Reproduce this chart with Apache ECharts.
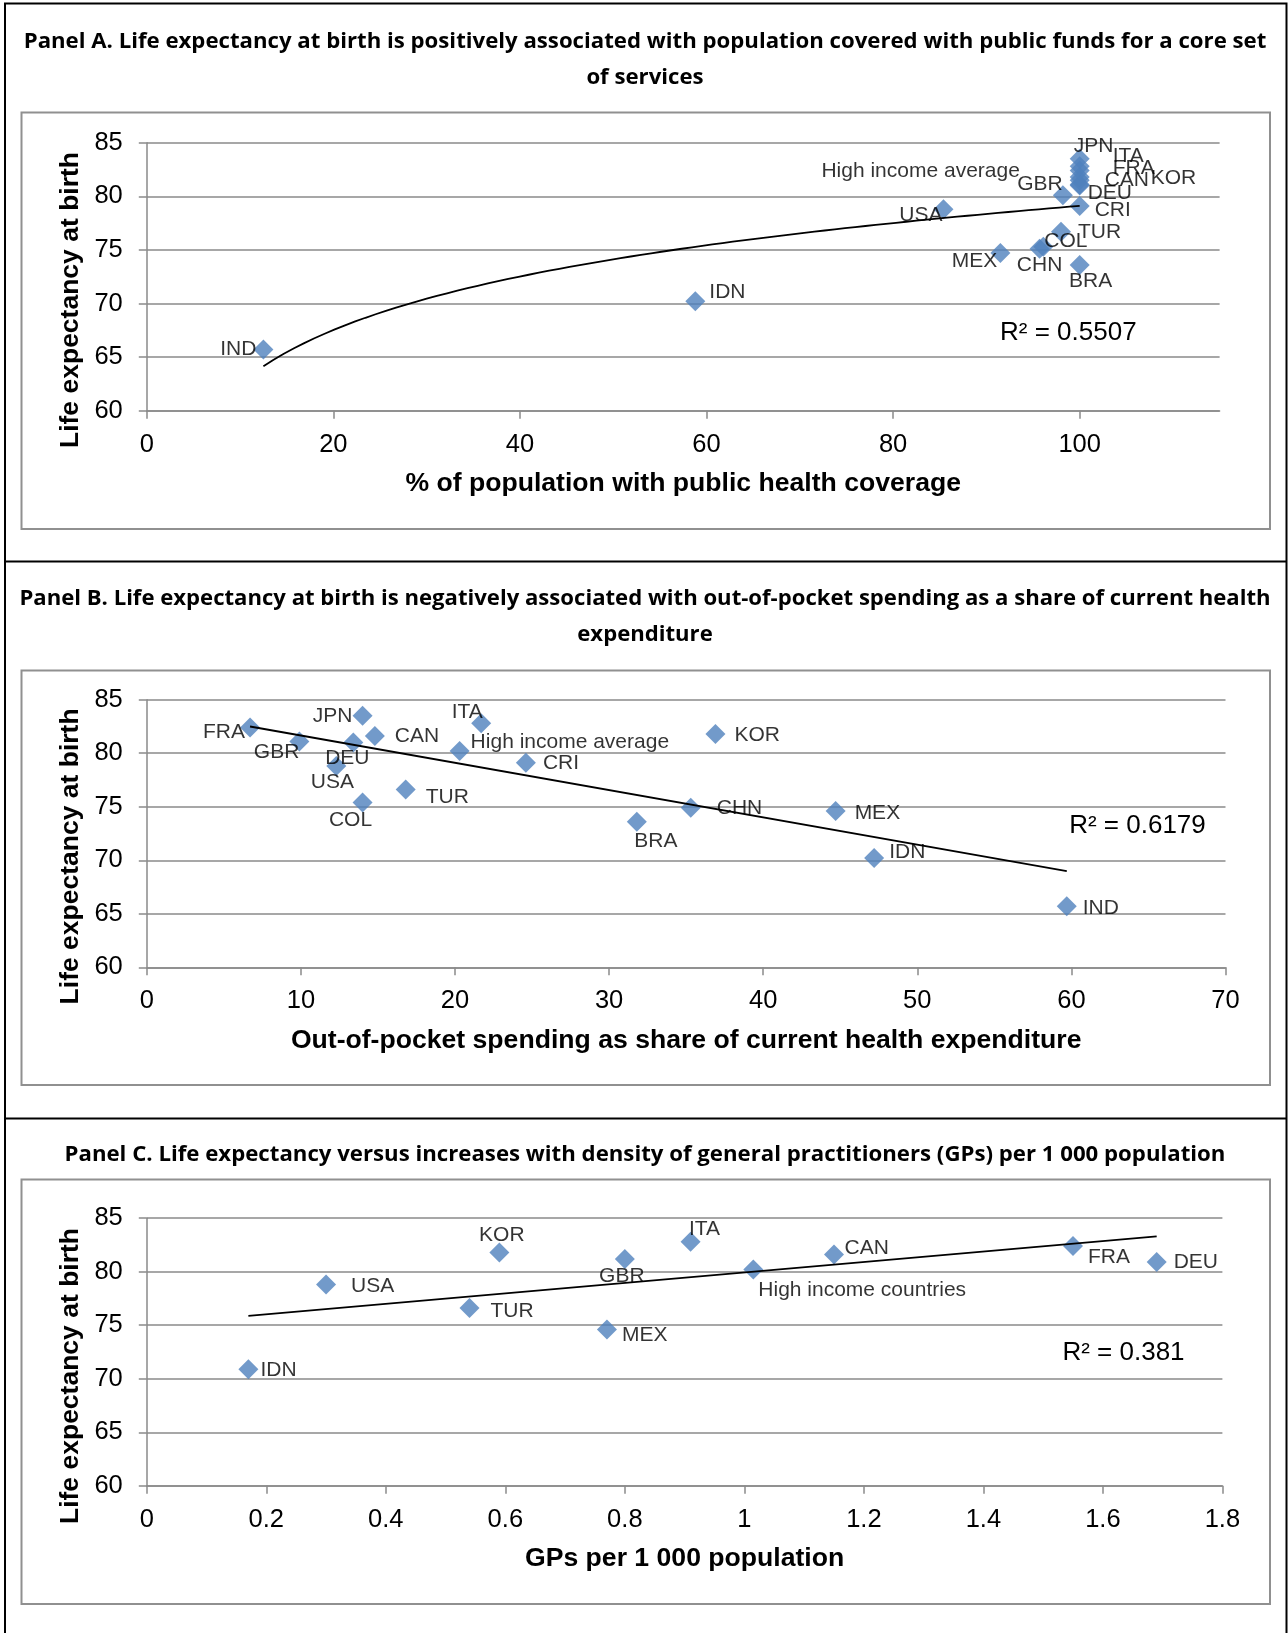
<!DOCTYPE html>
<html>
<head>
<meta charset="utf-8">
<script src="https://cdn.jsdelivr.net/npm/echarts@6/dist/echarts.min.js"></script>
<style>
  html, body { margin: 0; padding: 0; background: #ffffff; }
  #chart { width: 1288px; height: 1633px; }
</style>
</head>
<body>
<div id="chart"></div>
<script>
// ---- Panel A: public health coverage (%) vs life expectancy ----
const countriesA = ['IND', 'IDN', 'USA', 'MEX', 'CHN', 'COL', 'TUR', 'BRA', 'CRI',
  'High income average', 'DEU', 'GBR', 'CAN', 'KOR', 'FRA', 'ITA', 'JPN'];
const coverageA = [12.5, 58.8, 85.4, 91.5, 95.7, 96.1, 98.0, 100, 100, 98.2, 100, 100, 100, 100, 100, 100, 100];
const lifeExpA = [65.7, 70.2, 78.8, 74.7, 75.1, 75.3, 76.7, 73.6, 79.1, 80.1, 81.0, 81.1, 81.5, 81.8, 82.4, 82.8, 83.5];

// ---- Panel B: out-of-pocket share of current health expenditure vs life expectancy ----
const countriesB = ['FRA', 'GBR', 'USA', 'DEU', 'JPN', 'COL', 'CAN', 'TUR', 'High income average',
  'ITA', 'CRI', 'BRA', 'CHN', 'KOR', 'MEX', 'IDN', 'IND'];
const oopShareB = [6.7, 9.9, 12.3, 13.4, 14.0, 14.0, 14.8, 16.8, 20.3, 21.7, 24.6, 31.8, 35.3, 36.9, 44.7, 47.2, 59.7];
const lifeExpB = [82.4, 81.1, 78.8, 81.0, 83.5, 75.4, 81.6, 76.6, 80.2, 82.8, 79.1, 73.6, 74.9, 81.8, 74.6, 70.2, 65.7];

// ---- Panel C: GPs per 1 000 population vs life expectancy ----
const countriesC = ['IDN', 'USA', 'TUR', 'KOR', 'MEX', 'GBR', 'ITA', 'High income countries', 'CAN', 'FRA', 'DEU'];
const gpDensityC = [0.17, 0.30, 0.54, 0.59, 0.77, 0.80, 0.91, 1.015, 1.15, 1.55, 1.69];
const lifeExpC = [70.9, 78.8, 76.6, 81.8, 74.6, 81.2, 82.8, 80.2, 81.6, 82.4, 80.9];

// Axis tick settings
const lifeExpAxis = { min: 60, max: 85, interval: 5, showMax: true };
const coverageAxis = { min: 0, max: 115, interval: 20, showMax: false };
const oopAxis = { min: 0, max: 70, interval: 10, showMax: true };
const gpAxis = { min: 0, max: 1.8, interval: 0.2, showMax: true };

// Text shown on the page
const titlesA = ['Panel A. Life expectancy at birth is positively associated with population covered with public funds for a core set', 'of services'];
const titlesB = ['Panel B. Life expectancy at birth is negatively associated with out-of-pocket spending as a share of current health', 'expenditure'];
const titlesC = ['Panel C. Life expectancy versus increases with density of general practitioners (GPs) per 1 000 population'];
const yAxisTitle = 'Life expectancy at birth';
const xAxisTitles = ['% of population with public health coverage',
  'Out-of-pocket spending as share of current health expenditure',
  'GPs per 1 000 population'];
const rSquaredTexts = ['R² = 0.5507', 'R² = 0.6179', 'R² = 0.381'];

// Data label placement around each marker: [align, dx, dy] from the marker centre
const placeA = {
  'IND': ['right', -7, 0], 'IDN': ['left', 14, -9.5], 'USA': ['right', -1, 6], 'MEX': ['right', -3, 8],
  'CHN': ['center', 0, 16], 'COL': ['left', 1, -5], 'TUR': ['left', 17, 1], 'BRA': ['center', 11, 16],
  'CRI': ['left', 15, 4], 'High income average': ['right', -43, -24], 'DEU': ['left', 8, 8],
  'GBR': ['right', -17, 0], 'CAN': ['left', 25, 0], 'KOR': ['left', 71, 1], 'FRA': ['left', 33, -2],
  'ITA': ['left', 33, -10], 'JPN': ['center', 14, -13]
};
const placeB = {
  'FRA': ['right', -5, 5], 'GBR': ['right', 0, 11], 'JPN': ['right', -10, 0], 'DEU': ['center', -6, 16],
  'CAN': ['left', 20, 0], 'USA': ['center', -4, 16], 'COL': ['center', -12, 18], 'TUR': ['left', 20, 8],
  'High income average': ['left', 11, -9], 'ITA': ['center', -14, -11], 'CRI': ['left', 17, 0.5],
  'BRA': ['center', 19, 19], 'CHN': ['left', 26, 0.5], 'KOR': ['left', 19, 1], 'MEX': ['left', 19, 2],
  'IDN': ['left', 15, -6], 'IND': ['left', 16, 1.5]
};
const placeC = {
  'IDN': ['left', 12, 1.5], 'USA': ['left', 25, 1.5], 'KOR': ['center', 2.5, -17], 'TUR': ['left', 21, 3.5],
  'MEX': ['left', 15, 5.5], 'GBR': ['center', -3, 17], 'ITA': ['center', 14, -12.5],
  'High income countries': ['left', 5, 20.5], 'CAN': ['left', 10.5, -6], 'FRA': ['left', 15, 11],
  'DEU': ['left', 17, 0.5]
};

// Least-squares fit y = a + b * f(x)
function fit(xs, ys, f) {
  const n = xs.length;
  const fx = xs.map(f);
  const mx = fx.reduce((s, v) => s + v, 0) / n;
  const my = ys.reduce((s, v) => s + v, 0) / n;
  let sxy = 0, sxx = 0;
  for (let i = 0; i < n; i++) { sxy += (fx[i] - mx) * (ys[i] - my); sxx += (fx[i] - mx) * (fx[i] - mx); }
  const b = sxy / sxx;
  return { a: my - b * mx, b: b };
}
function trendPoints(xs, ys, f, steps) {
  const m = fit(xs, ys, f);
  const lo = Math.min.apply(null, xs), hi = Math.max.apply(null, xs);
  const pts = [];
  for (let i = 0; i <= steps; i++) {
    const x = lo + (hi - lo) * i / steps;
    pts.push([x, m.a + m.b * f(x)]);
  }
  return pts;
}

const FONT = '"Liberation Sans", Arial, sans-serif';
const TITLE_FONT = '"Open Sans", Lato, sans-serif';
const AXIS_GRAY = '#8a8a8a';
const MARKER = '#4F81BD';

// Size a bold title so its first line spans the given width
const measureCtx = document.createElement('canvas').getContext('2d');
function fitTitleSize(text, width) {
  measureCtx.font = 'bold 100px ' + TITLE_FONT;
  return 100 * width / measureCtx.measureText(text).width;
}

function scatterData(names, xs, ys, place) {
  return names.map((n, i) => {
    const p = place[n];
    return {
      name: n,
      value: [xs[i], ys[i]],
      label: { position: ['50%', '50%'], align: p[0], verticalAlign: 'middle', offset: [p[1], p[2]] }
    };
  });
}

function scatterSeries(idx, names, xs, ys, place) {
  return {
    type: 'scatter', xAxisIndex: idx, yAxisIndex: idx,
    symbol: 'diamond', symbolSize: 20,
    itemStyle: { color: MARKER },
    label: { show: true, formatter: '{b}', fontFamily: FONT, fontSize: 21, color: '#000' },
    emphasis: { disabled: true },
    data: scatterData(names, xs, ys, place),
    z: 3
  };
}
function trendSeries(idx, pts) {
  return {
    type: 'line', xAxisIndex: idx, yAxisIndex: idx,
    showSymbol: false, symbol: 'none', smooth: false,
    lineStyle: { color: '#000', width: 1.8 },
    silent: true, data: pts, z: 4
  };
}

function xAxisCfg(idx, range, name) {
  return {
    gridIndex: idx, type: 'value', min: range.min, max: range.max, interval: range.interval,
    name: name, nameLocation: 'middle', nameGap: 59.5,
    nameTextStyle: { fontFamily: FONT, fontWeight: 'bold', fontSize: 26.6, color: '#000' },
    axisLine: { show: true, onZero: false, lineStyle: { color: AXIS_GRAY, width: 1.5 } },
    axisTick: { show: true, length: 8, lineStyle: { color: AXIS_GRAY, width: 1.5 } },
    splitLine: { show: false },
    axisLabel: { fontFamily: FONT, fontSize: 25.5, color: '#000', margin: 21, showMaxLabel: range.showMax }
  };
}
function yAxisCfg(idx, range) {
  return {
    gridIndex: idx, type: 'value', min: range.min, max: range.max, interval: range.interval,
    axisLine: { show: true, onZero: false, lineStyle: { color: AXIS_GRAY, width: 1.5 } },
    axisTick: { show: true, length: 8, lineStyle: { color: AXIS_GRAY, width: 1.5 } },
    splitLine: { show: true, lineStyle: { color: AXIS_GRAY, width: 1.5 } },
    axisLabel: { fontFamily: FONT, fontSize: 25.5, color: '#000', margin: 24 }
  };
}

function titleText(text, y, size) {
  return { type: 'text', x: 645, y: y, style: { text: text, font: 'bold ' + size.toFixed(2) + 'px ' + TITLE_FONT, fill: '#000', textAlign: 'center', textVerticalAlign: 'middle' } };
}
function plainText(text, x, y, size, bold, rot) {
  return { type: 'text', x: x, y: y, rotation: rot || 0,
    style: { text: text, font: (bold ? 'bold ' : '') + size + 'px ' + FONT, fill: '#000', textAlign: 'center', textVerticalAlign: 'middle' } };
}
function frame(y, h) {
  return { type: 'rect', shape: { x: 21.5, y: y, width: 1248.5, height: h }, style: { fill: 'none', stroke: '#909090', lineWidth: 2 } };
}
function hline(y) {
  return { type: 'line', shape: { x1: 4, y1: y, x2: 1287, y2: y }, style: { stroke: '#000', lineWidth: 2 } };
}

const sizeA = fitTitleSize(titlesA[0], 1243);
const sizeB = fitTitleSize(titlesB[0], 1251);
const sizeC = fitTitleSize(titlesC[0], 1161);

const chart = echarts.init(document.getElementById('chart'), null, { renderer: 'canvas' });
chart.setOption({
  animation: false,
  backgroundColor: '#ffffff',
  grid: [
    { left: 146.8, top: 142.7, width: 1072.8, height: 268 },
    { left: 146.8, top: 699.7, width: 1078.7, height: 267.6 },
    { left: 146.8, top: 1218.2, width: 1075.6, height: 267.6 }
  ],
  xAxis: [xAxisCfg(0, coverageAxis, xAxisTitles[0]), xAxisCfg(1, oopAxis, xAxisTitles[1]), xAxisCfg(2, gpAxis, xAxisTitles[2])],
  yAxis: [yAxisCfg(0, lifeExpAxis), yAxisCfg(1, lifeExpAxis), yAxisCfg(2, lifeExpAxis)],
  series: [
    scatterSeries(0, countriesA, coverageA, lifeExpA, placeA),
    trendSeries(0, trendPoints(coverageA, lifeExpA, Math.log, 80)),
    scatterSeries(1, countriesB, oopShareB, lifeExpB, placeB),
    trendSeries(1, trendPoints(oopShareB, lifeExpB, v => v, 1)),
    scatterSeries(2, countriesC, gpDensityC, lifeExpC, placeC),
    trendSeries(2, trendPoints(gpDensityC, lifeExpC, v => v, 1))
  ],
  graphic: [
    // outer box and panel separators
    { type: 'polyline', shape: { points: [[5, 1640], [5, 3.5], [1286.5, 3.5], [1286.5, 1640]] }, style: { fill: 'none', stroke: '#000', lineWidth: 2 } },
    hline(561.5), hline(1118.5),
    frame(112.5, 416.5), frame(670.5, 414.5), frame(1179.5, 424.5),
    titleText(titlesA[0], 41.2, sizeA), titleText(titlesA[1], 77.6, sizeA),
    titleText(titlesB[0], 598.4, sizeB), titleText(titlesB[1], 634.8, sizeB),
    titleText(titlesC[0], 1154.2, sizeC),
    plainText(yAxisTitle, 70.8, 300, 26.5, true, Math.PI / 2),
    plainText(yAxisTitle, 70.8, 856.4, 26.5, true, Math.PI / 2),
    plainText(yAxisTitle, 70.8, 1376, 26.5, true, Math.PI / 2),
    plainText(rSquaredTexts[0], 1068.3, 333.2, 26, false),
    plainText(rSquaredTexts[1], 1137.5, 825.7, 26, false),
    plainText(rSquaredTexts[2], 1123.5, 1353.3, 26, false)
  ]
});
</script>
</body>
</html>
